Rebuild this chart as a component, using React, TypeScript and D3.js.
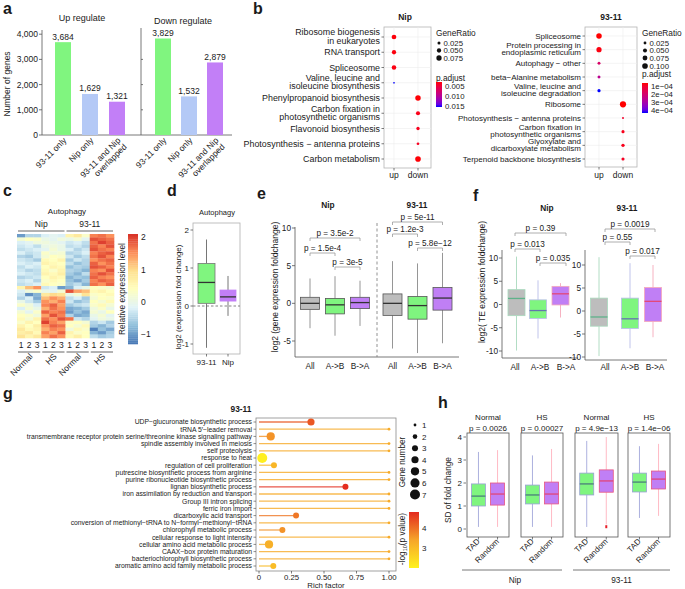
import React from 'react'
import * as d3 from 'd3'

const FONT = "'Liberation Sans', Arial, Helvetica, sans-serif"
const INK = '#1a1a1a'

// ---------- a: DEG counts ----------
const degGroups = ['93-11 only', 'Nip only', '93-11 and Nip\noverlapped']
const upCounts = [3684, 1629, 1321]
const downCounts = [3829, 1532, 2879]
const countTicks = [0, 1000, 2000, 3000, 4000]
const degColors = ['#80f57f', '#b4c9f6', '#c27ff7']

// ---------- b: KEGG dot plots ----------
const nipTerms = [
  'Ribosome biogenesis\nin eukaryotes', 'RNA transport', 'Spliceosome',
  'Valine, leucine and\nisoleucine biosynthesis', 'Phenylpropanoid biosynthesis',
  'Carbon fixation in\nphotosynthetic organisms', 'Flavonoid biosynthesis',
  'Photosynthesis − antenna proteins', 'Carbon metabolism',
]
const nipDirs = ['up', 'up', 'up', 'up', 'down', 'down', 'down', 'down', 'down']
const nipRatio = [0.06, 0.05, 0.055, 0.008, 0.08, 0.045, 0.03, 0.02, 0.085]
const nipPadj = [0.0029, 0.003, 0.0031, 0.0155, 0.0028, 0.0033, 0.0035, 0.0036, 0.0028]
const nipRatioTicks = [0.025, 0.05, 0.075]
const nipPadjTicks = [0.005, 0.01, 0.015]

const t93Terms = [
  'Spliceosome', 'Protein processing in\nendoplasmic reticulum', 'Autophagy − other',
  'beta−Alanine metabolism', 'Valine, leucine and\nisoleucine degradation', 'Ribosome',
  'Photosynthesis − antenna proteins', 'Carbon fixation in\nphotosynthetic organisms',
  'Glyoxylate and\ndicarboxylate metabolism', 'Terpenoid backbone biosynthesis',
]
const t93Dirs = ['up', 'up', 'up', 'up', 'up', 'down', 'down', 'down', 'down', 'down']
const t93Ratio = [0.095, 0.085, 0.028, 0.028, 0.032, 0.12, 0.012, 0.03, 0.035, 0.03]
const t93Padj = [0.6e-4, 0.7e-4, 1.9e-4, 2.6e-4, 4.35e-4, 0.6e-4, 1.0e-4, 0.8e-4, 0.8e-4, 0.9e-4]
const t93RatioTicks = [0.025, 0.05, 0.075, 0.1]
const t93PadjTicks = [1e-4, 2e-4, 3e-4, 4e-4]

// ---------- c: autophagy heatmap (Nip N, Nip HS, 93-11 N, 93-11 HS) ----------
const heatColLabels = ['1', '2', '3', '1', '2', '3', '1', '2', '3', '1', '2', '3']
const heatRows = [
  [-1.0, -0.5, -0.5, -0.2, -0.1, -0.2, 0.6, 0.8, 0.3, 1.6, 1.7, 1.5],
  [0.2, 0.4, 0.3, 0.0, -0.1, 0.1, 0.0, 0.2, -0.1, 1.9, 1.8, 1.7],
  [-0.2, -0.1, 0.1, 0.1, 0.0, -0.1, -0.3, -0.2, -0.4, 1.7, 2.0, 1.8],
  [-0.3, -0.2, -0.4, 0.0, 0.1, 0.0, -0.4, -0.3, -0.5, 1.8, 1.6, 1.9],
  [-0.4, -0.3, -0.2, -0.1, 0.2, 0.0, -0.2, -0.5, -0.3, 1.9, 1.7, 1.6],
  [-0.2, -0.4, -0.3, 0.3, 0.1, 0.2, -0.5, -0.4, -0.2, 1.6, 1.8, 1.9],
  [-0.5, -0.6, -0.3, 0.2, 0.4, 0.3, -0.3, -0.6, -0.4, 1.7, 1.9, 1.6],
  [-0.3, -0.4, -0.6, 0.5, 0.4, 0.6, -0.6, -0.3, -0.5, 1.5, 1.7, 1.8],
  [-0.2, -0.3, -0.2, 0.6, 0.5, 0.4, -0.4, -0.7, -0.5, 1.8, 1.5, 1.7],
  [-0.4, -0.2, -0.3, 0.4, 0.6, 0.5, -0.7, -0.5, -0.6, 1.9, 1.8, 1.6],
  [-0.3, -0.5, -0.4, 0.5, 0.3, 0.6, -0.5, -0.6, -0.8, 1.6, 1.5, 1.9],
  [-0.2, -0.3, -0.4, 0.6, 0.5, 0.7, -0.6, -0.8, -0.4, 1.7, 1.9, 1.7],
  [-0.5, -0.4, -0.3, 0.4, 0.6, 0.5, -0.8, -0.6, -0.7, 1.8, 1.6, 1.5],
  [-0.3, -0.2, -0.5, 0.3, 0.5, 0.4, -0.7, -0.9, -0.6, 1.6, 1.8, 1.7],
  [-0.4, -0.3, -0.2, 0.5, 0.4, 0.3, -0.6, -0.4, -0.8, 1.7, 1.5, 1.8],
  [0.6, 1.2, 1.5, -0.3, -0.2, -1.0, -0.8, -0.2, 0.0, 0.4, 0.3, 0.2],
  [-0.2, 0.1, 0.3, 0.0, -0.1, 0.2, 1.9, 1.4, 1.2, 0.5, 0.6, 0.4],
  [-0.3, -1.1, -0.8, 0.8, 1.0, 0.9, 0.0, 0.2, 0.9, 0.3, 0.4, 0.5],
  [-0.5, -0.2, -0.9, 1.2, 1.5, 1.3, -0.4, -0.2, -0.6, 0.2, 0.4, 0.3],
  [0.0, -0.3, -0.6, 1.5, 1.3, 1.6, -0.3, -0.7, -0.5, 0.4, 0.2, 0.5],
  [0.3, 0.1, -0.2, 1.6, 1.8, 1.4, -0.6, -0.4, -0.3, 0.3, 0.5, 0.2],
  [-0.2, 0.2, 0.0, 1.3, 1.7, 1.5, -0.9, -0.8, -0.6, 0.1, 0.3, 0.0],
  [0.2, -0.1, 0.3, 1.8, 1.6, 1.7, -1.0, -0.7, -0.9, 0.2, 0.0, 0.4],
  [0.4, 0.3, 0.1, 1.4, 1.9, 1.6, -0.5, -0.9, -0.8, 0.0, 0.2, -0.1],
  [0.5, 0.2, 0.6, 1.7, 1.5, 1.9, 1.7, -0.3, -0.5, -0.1, 0.1, 0.0],
  [0.3, 0.6, 0.4, 2.0, 1.6, 1.4, 0.3, 0.4, 0.2, -0.5, -0.3, -0.6],
  [0.6, 0.4, 0.7, 1.5, 1.8, 1.7, 0.4, 0.2, 0.5, -0.6, -0.8, -0.5],
  [0.8, 0.5, 0.6, 1.3, 1.6, 1.5, 0.1, 0.5, 0.3, -1.2, -0.7, -0.9],
  [0.7, 0.8, 0.5, 1.6, 1.4, 1.8, 0.6, 0.3, 0.4, -0.8, -1.0, -0.6],
  [0.9, 0.6, 0.8, 1.4, 1.7, 1.5, 0.5, 0.7, 0.4, -0.4, -0.6, -0.5],
]
const heatTicks = [-1, 0, 1, 2]
const heatGroups = ['Normal', 'HS', 'Normal', 'HS']
const heatStrains = ['Nip', '93-11']
const RDYLBU = ['#4575b4', '#91bfdb', '#e0f3f8', '#ffffbf', '#fee090', '#fc8d59', '#d73027']

// ---------- d: autophagy fold change (lo, q1, median, q3, hi) ----------
const dGroups = ['93-11', 'Nip']
const dStats = [
  [-1.1, 0.07, 0.62, 1.12, 1.75],
  [-0.26, 0.13, 0.24, 0.42, 0.79],
]
const dTicks = [-1, 0, 1, 2]

// ---------- e / f: compartment switches ----------
const switchGroups = ['All', 'A->B', 'B->A']
const bracketPairs = [[0, 2], [0, 1], [1, 2]]
const eNipStats = [
  [-3.3, -0.8, 0, 0.8, 3.3],
  [-4.3, -1.4, -0.2, 0.65, 3.6],
  [-3.0, -0.7, 0.1, 0.8, 3.0],
]
const e93Stats = [
  [-6.0, -1.6, 0, 1.25, 5.6],
  [-6.6, -2.1, -0.3, 0.9, 5.3],
  [-5.3, -0.9, 0.7, 2.1, 6.7],
]
const eNipP = ['p = 3.5e-2', 'p = 1.5e-4', 'p = 3e-5']
const e93P = ['p = 5e-11', 'p = 1.2e-3', 'p = 5.8e−12']
const eTicks = [-5, 0, 5, 10]

const fNipStats = [
  [-9.9, -2.4, 1.3, 3.2, 10.3],
  [-7.3, -3.0, -1.3, 1.0, 5.2],
  [-2.8, -0.1, 2.3, 3.9, 4.6],
]
const f93Stats = [
  [-9.8, -3.3, -1.3, 2.8, 11.7],
  [-8.1, -3.8, -1.7, 2.8, 10.4],
  [-5.7, -2.3, 2.1, 5.1, 10.0],
]
const fNipP = ['p = 0.39', 'p = 0.013', 'p = 0.035']
const f93P = ['p = 0.0019', 'p = 0.55', 'p = 0.017']
const fTicks = [-10, -5, 0, 5, 10]

// ---------- g: GO enrichment ----------
const goTerms = [
  'UDP−glucuronate biosynthetic process',
  'tRNA 5′−leader removal',
  'transmembrane receptor protein serine/threonine kinase signaling pathway',
  'spindle assembly involved in meiosis',
  'self proteolysis',
  'response to heat',
  'regulation of cell proliferation',
  'putrescine biosynthetic process from arginine',
  'purine ribonucleotide biosynthetic process',
  'lignan biosynthetic process',
  'iron assimilation by reduction and transport',
  'Group III intron splicing',
  'ferric iron import',
  'dicarboxylic acid transport',
  'conversion of methionyl−tRNA to N−formyl−methionyl−tRNA',
  'chlorophyll metabolic process',
  'cellular response to light intensity',
  'cellular amino acid metabolic process',
  'CAAX−box protein maturation',
  'bacteriochlorophyll biosynthetic process',
  'aromatic amino acid family metabolic process',
]
const goRich = [0.4, 1, 0.09, 1, 1, 0.025, 0.115, 1, 1, 0.665, 1, 1, 1, 0.285, 1, 0.18, 1, 0.077, 1, 1, 0.11]
const goGenes = [4, 1, 5, 1, 1, 7, 3, 1, 1, 3, 1, 1, 1, 3, 1, 3, 1, 5, 1, 1, 3]
const goLogP = [4.25, 3.3, 3.6, 3.3, 3.3, 2.1, 3.1, 3.3, 3.3, 4.7, 3.3, 3.3, 3.3, 3.9, 3.3, 3.6, 3.3, 3.2, 3.3, 3.3, 3.0]
const goRichTicks = [0, 0.25, 0.5, 0.75, 1]
const goGeneTicks = [1, 2, 3, 4, 5, 6, 7]
const goLogPTicks = [3, 4]

// ---------- h: SD of fold change ----------
const hConds = ['Normal', 'HS', 'Normal', 'HS']
const hP = ['p = 0.0026', 'p = 0.00027', 'p = 4.9e−13', 'p = 1.4e−06']
const hGroups = ['TAD', 'Random']
const hTadStats = [
  [0.09, 1.0, 1.43, 1.96, 3.35],
  [0.09, 1.09, 1.48, 1.91, 3.2],
  [0.09, 1.48, 1.96, 2.43, 3.83],
  [0.48, 1.61, 2.04, 2.43, 3.6],
]
const hRandomStats = [
  [0.09, 1.04, 1.52, 2.0, 3.43],
  [0.09, 1.09, 1.52, 2.04, 3.48],
  [0.2, 1.6, 2.09, 2.57, 4.0],
  [0.57, 1.74, 2.17, 2.52, 3.7],
]
const hOutliers = [[], [], [0.1], []]
const hTicks = [0, 1, 2, 3, 4]

// ---------- helpers ----------
function T(p: any) {
  return <text fontFamily={FONT} fill={INK} {...p} />
}

function Letter({ x, y, c }: any) {
  return <T x={x} y={y} fontSize={16} fontWeight="bold">{c}</T>
}

function Box({ x, w, s, y, fill, stroke, med, whisker, mw = 1.3 }: any) {
  const [lo, q1, m, q3, hi] = s
  return (
    <g>
      <line x1={x} x2={x} y1={y(hi)} y2={y(q3)} stroke={whisker} strokeWidth={0.9} />
      <line x1={x} x2={x} y1={y(q1)} y2={y(lo)} stroke={whisker} strokeWidth={0.9} />
      <rect x={x - w / 2} y={y(q3)} width={w} height={y(q1) - y(q3)} fill={fill} stroke={stroke} strokeWidth={0.8} />
      <line x1={x - w / 2} x2={x + w / 2} y1={y(m)} y2={y(m)} stroke={med} strokeWidth={mw} />
    </g>
  )
}

function Bracket({ x1, x2, y, label }: any) {
  return (
    <g>
      <path d={`M${x1},${y + 3}V${y}H${x2}V${y + 3}`} fill="none" stroke="#9a9a9a" strokeWidth={0.8} />
      <T x={(x1 + x2) / 2} y={y - 2.3} fontSize={8.2} textAnchor="middle">{label}</T>
    </g>
  )
}

function Lines({ text, lh }: any) {
  const ls = text.split('\n')
  return <>{ls.map((l: string, i: number) => <tspan key={i} x={0} dy={i ? lh : 0}>{l}</tspan>)}</>
}

// ---------- panel a ----------
function PanelA() {
  const y = d3.scaleLinear().domain([0, 4000]).range([135, 34.2])
  const color = d3.scaleOrdinal<string, string>().domain(degGroups).range(degColors)
  const fmt = d3.format(',')
  const subs = [
    { title: 'Up regulate', counts: upCounts, range: [63, 117], tx: 82, ty: 21 },
    { title: 'Down regulate', counts: downCounts, range: [163, 215], tx: 183, ty: 24 },
  ]
  return (
    <g>
      <Letter x={3} y={14} c="a" />
      <path d="M42,30V135H232" fill="none" stroke="#555" strokeWidth={0.8} />
      <path d="M141,28V135" fill="none" stroke="#555" strokeWidth={0.8} />
      {countTicks.map(t => (
        <g key={t}>
          <line x1={39} x2={42} y1={y(t)} y2={y(t)} stroke="#555" strokeWidth={0.8} />
          <T x={38} y={y(t) + 3} fontSize={8.5} textAnchor="end">{fmt(t)}</T>
          {t > 0 && t < 4000 && <line x1={141} x2={143} y1={y(t)} y2={y(t)} stroke="#555" strokeWidth={0.8} />}
        </g>
      ))}
      <T transform="translate(10,84) rotate(-90)" fontSize={8.5} textAnchor="middle">Number of genes</T>
      {subs.map(s => {
        const x = d3.scalePoint<string>().domain(degGroups).range(s.range as [number, number])
        return (
          <g key={s.title}>
            <T x={s.tx} y={s.ty} fontSize={9} textAnchor="middle">{s.title}</T>
            {degGroups.map((g, i) => (
              <g key={g}>
                <rect x={x(g)! - 8} y={y(s.counts[i])} width={16} height={y(0) - y(s.counts[i])} fill={color(g)} />
                <T x={x(g)} y={y(s.counts[i]) - 2.5} fontSize={8.5} textAnchor="middle">{fmt(s.counts[i])}</T>
                <T transform={`translate(${x(g)! + 4},141) rotate(-45)`} fontSize={8.5} textAnchor="end">
                  <Lines text={g} lh="1.05em" />
                </T>
              </g>
            ))}
          </g>
        )
      })}
    </g>
  )
}

// ---------- panel b ----------
function DotPlot(c: any) {
  const n = c.terms.length
  const y = d3.scalePoint<number>().domain(d3.range(n)).range([c.rowTop, c.rowBot])
  const x = d3.scalePoint<string>().domain(['up', 'down']).range(c.colX)
  const r = d3.scaleSqrt().domain([0, c.ratioMax]).range([0, c.rMax])
  const col = d3.scaleLinear<string>().domain(c.padjDomain).range(['#ff0000', '#0000ff']).interpolate(d3.interpolateLab).clamp(true)
  const by = d3.scaleLinear().domain(c.padjDomain).range(c.barY)
  const gid = `grad${c.id}`
  const stops = d3.range(11).map(i => i / 10)
  return (
    <g>
      <defs>
        <linearGradient id={gid} x1="0" y1="0" x2="0" y2="1">
          {stops.map(t => <stop key={t} offset={t} stopColor={col(c.padjDomain[0] + t * (c.padjDomain[1] - c.padjDomain[0]))} />)}
        </linearGradient>
      </defs>
      <T x={c.titleX} y={20} fontSize={8.5} fontWeight="bold" textAnchor="middle">{c.title}</T>
      <rect x={c.x0} y={c.y0} width={c.x1 - c.x0} height={c.y1 - c.y0} fill="white" stroke="#b5b5b5" strokeWidth={0.8} />
      {d3.range(n).map(i => (
        <line key={i} x1={c.x0} x2={c.x1} y1={y(i)} y2={y(i)} stroke="#ececec" strokeWidth={0.6} />
      ))}
      {x.domain().map(d => (
        <g key={d}>
          <line x1={x(d)} x2={x(d)} y1={c.y0} y2={c.y1} stroke="#ececec" strokeWidth={0.6} />
          <line x1={x(d)} x2={x(d)} y1={c.y1} y2={c.y1 + 2.5} stroke="#444" strokeWidth={0.7} />
          <T x={x(d)} y={178} fontSize={8.5} textAnchor="middle">{d}</T>
        </g>
      ))}
      {c.terms.map((t: string, i: number) => {
        const two = t.includes('\n')
        return (
          <g key={t}>
            <line x1={c.x0 - 2.5} x2={c.x0} y1={y(i)} y2={y(i)} stroke="#444" strokeWidth={0.7} />
            <T transform={`translate(${c.x0 - 4},${y(i)! + (two ? c.twoOff : 3)})`} fontSize={c.fs} textAnchor="end">
              <Lines text={t} lh={c.lh} />
            </T>
            <circle cx={x(c.dirs[i])} cy={y(i)} r={r(c.ratio[i])} fill={col(c.padj[i])} />
          </g>
        )
      })}
      <T x={c.legX} y={36} fontSize={8.3}>GeneRatio</T>
      {c.ratioTicks.map((t: number, i: number) => (
        <g key={t}>
          <circle cx={c.legX + 3} cy={c.legDotY[i]} r={r(t)} fill="#111" />
          <T x={c.legX + 7.5} y={c.legDotY[i] + 2.8} fontSize={7.8}>{d3.format('.3f')(t)}</T>
        </g>
      ))}
      <T x={c.legX} y={c.padjTitleY} fontSize={8.3}>p.adjust</T>
      <rect x={c.legX} y={c.barY[0]} width={6} height={c.barY[1] - c.barY[0]} fill={`url(#${gid})`} />
      {c.padjTicks.map((t: number) => (
        <T key={t} x={c.legX + 9} y={by(t) + 2.8} fontSize={7.8}>{c.padjFmt(t)}</T>
      ))}
    </g>
  )
}

function PanelB() {
  return (
    <g>
      <Letter x={253} y={14} c="b" />
      <DotPlot id="nip" title="Nip" titleX={405} terms={nipTerms} dirs={nipDirs} ratio={nipRatio} padj={nipPadj}
        x0={384} x1={431} y0={27} y1={168} rowTop={37} rowBot={159} colX={[394, 418]}
        fs={8.9} lh={8.2} twoOff={-1.6}
        ratioMax={0.09} rMax={2.9} ratioTicks={nipRatioTicks} legDotY={[43, 50.5, 58]}
        padjDomain={[0.0027, 0.0155]} barY={[82, 107]} padjTicks={nipPadjTicks} padjTitleY={81}
        padjFmt={d3.format('.3f')} legX={436} />
      <DotPlot id="t93" title="93-11" titleX={611} terms={t93Terms} dirs={t93Dirs} ratio={t93Ratio} padj={t93Padj}
        x0={585} x1={637} y0={27} y1={167} rowTop={36} rowBot={159} colX={[599, 623]}
        fs={8} lh={7} twoOff={-1.3}
        ratioMax={0.12} rMax={3.1} ratioTicks={t93RatioTicks} legDotY={[43, 50.5, 58, 66]}
        padjDomain={[0.6e-4, 4.35e-4]} barY={[83, 113]} padjTicks={t93PadjTicks} padjTitleY={77}
        padjFmt={(v: number) => `${Math.round(v * 1e4)}e−04`} legX={642} />
    </g>
  )
}

// ---------- panel c ----------
function PanelC() {
  const x = d3.scaleBand<number>().domain(d3.range(12)).range([17, 114])
  const y = d3.scaleBand<number>().domain(d3.range(heatRows.length)).range([234, 338])
  const lo = -1.3, hi = 2.1
  const color = d3.scaleLinear<string>()
    .domain(RDYLBU.map((_, i) => lo + (i * (hi - lo)) / (RDYLBU.length - 1)))
    .range(RDYLBU).clamp(true)
  const cb = d3.scaleLinear().domain([lo, hi]).range([344, 234])
  const steps = d3.range(60)
  const grpX = (g: number) => (x(g * 3)! + x(g * 3 + 2)! + x.bandwidth()) / 2
  return (
    <g>
      <Letter x={3} y={196} c="c" />
      <T x={67} y={214} fontSize={8} textAnchor="middle">Autophagy</T>
      {heatStrains.map((s, i) => (
        <g key={s}>
          <T x={x(i * 6)! + x.bandwidth() * 3} y={227} fontSize={8.5} textAnchor="middle">{s}</T>
          <line x1={x(i * 6)! + 1} x2={x(i * 6 + 5)! + x.bandwidth() - 1} y1={231} y2={231} stroke="#555" strokeWidth={0.9} />
        </g>
      ))}
      {heatRows.map((row, ri) => row.map((v, ci) => (
        <rect key={`${ri}-${ci}`} x={x(ci)} y={y(ri)} width={x.bandwidth() + 0.3} height={y.bandwidth() + 0.3} fill={color(v)} />
      )))}
      {heatColLabels.map((l, i) => (
        <T key={i} x={x(i)! + x.bandwidth() / 2} y={348} fontSize={8.5} textAnchor="middle">{l}</T>
      ))}
      {heatGroups.map((g, i) => (
        <g key={i}>
          <line x1={x(i * 3)! + 1} x2={x(i * 3 + 2)! + x.bandwidth() - 1} y1={352} y2={352} stroke="#555" strokeWidth={0.9} />
          <T transform={`translate(${grpX(i) + 4},357) rotate(-45)`} fontSize={8.5} textAnchor="end">{g}</T>
        </g>
      ))}
      {steps.map(i => {
        const v0 = lo + (i / steps.length) * (hi - lo)
        const v1 = lo + ((i + 1) / steps.length) * (hi - lo)
        return <rect key={i} x={128} y={cb(v1)} width={10} height={cb(v0) - cb(v1) + 0.3} fill={color((v0 + v1) / 2)} />
      })}
      {heatTicks.map(t => (
        <T key={t} x={141} y={cb(t) + 3} fontSize={8.5}>{t < 0 ? `−${-t}` : t}</T>
      ))}
      <T transform="translate(125,289) rotate(-90)" fontSize={8.3} textAnchor="middle">Relative expression level</T>
    </g>
  )
}

// ---------- panel d ----------
function PanelD() {
  const y = d3.scaleLinear().domain([-1, 2]).range([344, 230])
  const x = d3.scalePoint<string>().domain(dGroups).range([206.5, 228])
  const fills = ['#80f57f', '#c27ff7']
  return (
    <g>
      <Letter x={167} y={196} c="d" />
      <T x={217} y={215} fontSize={7.5} textAnchor="middle">Autophagy</T>
      <rect x={193} y={223} width={47} height={131} fill="white" stroke="#b0b0b0" strokeWidth={0.8} />
      <line x1={193} x2={240} y1={y(0)} y2={y(0)} stroke="#666" strokeDasharray="2.5,2" strokeWidth={0.8} />
      {dTicks.map(t => (
        <g key={t}>
          <line x1={190.5} x2={193} y1={y(t)} y2={y(t)} stroke="#444" strokeWidth={0.7} />
          <T x={189} y={y(t) + 3} fontSize={8} textAnchor="end">{t}</T>
        </g>
      ))}
      {dGroups.map((g, i) => (
        <g key={g}>
          <Box x={x(g)} w={i ? 16 : 17} s={dStats[i]} y={y} fill={fills[i]} stroke={i ? '#c27ff7' : '#777'} med="#333" whisker="#666" />
          <line x1={x(g)} x2={x(g)} y1={354} y2={356.5} stroke="#444" strokeWidth={0.7} />
          <T x={x(g)} y={365} fontSize={8} textAnchor="middle">{g}</T>
        </g>
      ))}
      <T transform="translate(181,297) rotate(-90)" fontSize={8} textAnchor="middle">log2 (expression fold change)</T>
    </g>
  )
}

// ---------- panel e / f sub-plots ----------
function SwitchPlot({ stats, pos, labelPos, y, fills, strokes, meds, whiskers, pvals, bY, w }: any) {
  return (
    <g>
      {switchGroups.map((g, i) => (
        <Box key={g} x={pos[i]} w={w} s={stats[i]} y={y} fill={fills[i]} stroke={strokes[i]} med={meds[i]} whisker={whiskers[i]} />
      ))}
      {bracketPairs.map(([a, b], k) => (
        <Bracket key={k} x1={labelPos[a]} x2={labelPos[b]} y={bY[k]} label={pvals[k]} />
      ))}
    </g>
  )
}

function PanelE() {
  const y = d3.scaleLinear().domain([-5, 10]).range([341, 228])
  const fills = ['#bdbdbd', '#7ff57f', '#c07ff5']
  const strokes = ['#555', '#555', '#555']
  const meds = ['#333', '#333', '#333']
  const wh = ['#8a8a8a', '#8a8a8a', '#8a8a8a']
  const nipX = d3.scalePoint<string>().domain(switchGroups).range([310, 360])
  const t93X = d3.scalePoint<string>().domain(switchGroups).range([392.5, 442.5])
  const np = switchGroups.map(g => nipX(g)!)
  const tp = switchGroups.map(g => t93X(g)!)
  return (
    <g>
      <Letter x={257} y={199} c="e" />
      <T x={328} y={208} fontSize={8.3} fontWeight="bold" textAnchor="middle">Nip</T>
      <T x={417} y={208} fontSize={8.3} fontWeight="bold" textAnchor="middle">93-11</T>
      <path d="M295,227V357H459" fill="none" stroke="#555" strokeWidth={0.8} />
      <line x1={377} x2={377} y1={223} y2={357} stroke="#777" strokeDasharray="3,2.5" strokeWidth={0.8} />
      {eTicks.map(t => (
        <g key={t}>
          <line x1={292} x2={295} y1={y(t)} y2={y(t)} stroke="#555" strokeWidth={0.8} />
          <T x={291} y={y(t) + 3} fontSize={8.3} textAnchor="end">{t}</T>
        </g>
      ))}
      <T transform="translate(278,287) rotate(-90)" fontSize={8.5} textAnchor="middle">log2 (gene expression foldchange)</T>
      <SwitchPlot stats={eNipStats} pos={np} labelPos={np} y={y} fills={fills} strokes={strokes} meds={meds} whiskers={wh}
        pvals={eNipP} bY={[238, 253, 267]} w={19} />
      <SwitchPlot stats={e93Stats} pos={tp} labelPos={tp} y={y} fills={fills} strokes={strokes} meds={meds} whiskers={wh}
        pvals={e93P} bY={[222, 234, 248]} w={19} />
      {switchGroups.map(g => (
        <g key={g}>
          <T x={nipX(g)} y={369} fontSize={8.3} textAnchor="middle">{g}</T>
          <T x={t93X(g)} y={369} fontSize={8.3} textAnchor="middle">{g}</T>
        </g>
      ))}
    </g>
  )
}

function PanelF() {
  const yN = d3.scaleLinear().domain([-10, 10]).range([351, 258])
  const yT = d3.scaleLinear().domain([-10, 10]).range([357, 265])
  const fills = ['#bdbdbd', '#7ff57f', '#c07ff5']
  const strokes = ['#a9d9bd', '#b9bde9', '#f5a9ba']
  const meds = ['#5fb28a', '#6475ad', '#e2487a']
  const nipBox = [516.5, 538, 560.5]
  const nipLab = [515, 540, 566]
  const t93Box = [599, 630, 653]
  const t93Lab = [605, 630, 655]
  const axes = [
    { y: yN, ax: 502, bottom: 358, right: 578 },
    { y: yT, ax: 585, bottom: 360, right: 667 },
  ]
  return (
    <g>
      <Letter x={473} y={201} c="f" />
      <T x={547} y={211} fontSize={8.3} fontWeight="bold" textAnchor="middle">Nip</T>
      <T x={627} y={211} fontSize={8.3} fontWeight="bold" textAnchor="middle">93-11</T>
      {axes.map((a, k) => (
        <g key={k}>
          <path d={`M${a.ax},250V${a.bottom}H${a.right}`} fill="none" stroke="#555" strokeWidth={0.8} />
          {fTicks.map(t => (
            <g key={t}>
              <line x1={a.ax - 3} x2={a.ax} y1={a.y(t)} y2={a.y(t)} stroke="#555" strokeWidth={0.8} />
              <T x={a.ax - 4} y={a.y(t) + 3} fontSize={8.3} textAnchor="end">{t}</T>
            </g>
          ))}
        </g>
      ))}
      <T transform="translate(485,282) rotate(-90)" fontSize={8.5} textAnchor="middle">log2( TE expression foldchange)</T>
      <SwitchPlot stats={fNipStats} pos={nipBox} labelPos={nipLab} y={yN} fills={fills} strokes={strokes} meds={meds} whiskers={strokes}
        pvals={fNipP} bY={[233, 249, 263]} w={17} />
      <SwitchPlot stats={f93Stats} pos={t93Box} labelPos={t93Lab} y={yT} fills={fills} strokes={strokes} meds={meds} whiskers={strokes}
        pvals={f93P} bY={[229, 242, 256]} w={17} />
      {switchGroups.map((g, i) => (
        <g key={g}>
          <T x={nipLab[i]} y={370} fontSize={8.3} textAnchor="middle">{g}</T>
          <T x={t93Lab[i]} y={370} fontSize={8.3} textAnchor="middle">{g}</T>
        </g>
      ))}
    </g>
  )
}

// ---------- panel g ----------
function PanelG() {
  const x = d3.scaleLinear().domain([0, 1]).range([259, 389])
  const y = d3.scalePoint<number>().domain(d3.range(goTerms.length)).range([422, 566])
  const r = d3.scaleSqrt().domain([1, 7]).range([1.4, 5])
  const col = d3.scaleLinear<string>().domain([2.05, 3.4, 4.75]).range(['#fff21e', '#f6a52a', '#e3291f']).clamp(true)
  const cb = d3.scaleLinear().domain([2.05, 4.75]).range([568, 512])
  const stops = d3.range(11).map(i => i / 10)
  const legY = d3.scalePoint<number>().domain(goGeneTicks).range([425, 494.5])
  return (
    <g>
      <defs>
        <linearGradient id="gradGo" x1="0" y1="1" x2="0" y2="0">
          {stops.map(t => <stop key={t} offset={t} stopColor={col(2.05 + t * 2.7)} />)}
        </linearGradient>
      </defs>
      <Letter x={3} y={399} c="g" />
      <T x={241} y={412} fontSize={8.3} fontWeight="bold" textAnchor="middle">93-11</T>
      <rect x={256} y={418} width={140} height={153} fill="white" stroke="#8a8a8a" strokeWidth={0.8} />
      {goTerms.map((t, i) => (
        <g key={t}>
          <line x1={253.5} x2={256} y1={y(i)} y2={y(i)} stroke="#444" strokeWidth={0.6} />
          <T x={252} y={y(i)! + 2.3} fontSize={6.8} textAnchor="end">{t}</T>
          <line x1={x(0)} x2={x(goRich[i])} y1={y(i)} y2={y(i)} stroke={col(goLogP[i])} strokeWidth={1.3} opacity={0.8} />
          <circle cx={x(goRich[i])} cy={y(i)} r={r(goGenes[i])} fill={col(goLogP[i])} />
        </g>
      ))}
      {goRichTicks.map(t => (
        <g key={t}>
          <line x1={x(t)} x2={x(t)} y1={571} y2={573.5} stroke="#444" strokeWidth={0.7} />
          <T x={x(t)} y={579.5} fontSize={7.8} textAnchor="middle">{t === 0 ? '0' : d3.format('.2f')(t)}</T>
        </g>
      ))}
      <T x={326} y={588.3} fontSize={7.8} textAnchor="middle">Rich factor</T>
      <T transform="translate(405,462) rotate(-90)" fontSize={8.3} textAnchor="middle">Gene number</T>
      {goGeneTicks.map(g => (
        <g key={g}>
          <circle cx={415} cy={legY(g)} r={r(g)} fill="#111" />
          <T x={422} y={legY(g)! + 3} fontSize={8}>{g}</T>
        </g>
      ))}
      <T transform="translate(405,539) rotate(-90)" fontSize={8.3} textAnchor="middle">
        -log<tspan fontSize={5.5} dy={2}>10</tspan><tspan dy={-2}>(p value)</tspan>
      </T>
      <rect x={409} y={512} width={10} height={56} fill="url(#gradGo)" />
      {goLogPTicks.map(t => (
        <T key={t} x={422} y={cb(t) + 3} fontSize={8}>{t}</T>
      ))}
    </g>
  )
}

// ---------- panel h ----------
function PanelH() {
  const y = d3.scaleLinear().domain([0, 4]).range([529, 437])
  const facetX = [[467, 509], [521, 563], [575, 618], [628, 670]]
  const tadStyle = { fill: '#7ff57f', stroke: '#9aa0d6', med: '#4a7f7a', whisker: '#a3a7da' }
  const rndStyle = { fill: '#c07ff5', stroke: '#e8557f', med: '#e0457a', whisker: '#ffb3be' }
  const strainSpans = [
    { name: 'Nip', x0: 462, x1: 562 },
    { name: '93-11', x0: 573, x1: 670 },
  ]
  return (
    <g>
      <Letter x={438} y={408} c="h" />
      <T transform="translate(451,490) rotate(-90)" fontSize={8.3} textAnchor="middle">SD of fold change</T>
      {hTicks.map(t => (
        <g key={t}>
          <line x1={463.5} x2={466} y1={y(t)} y2={y(t)} stroke="#444" strokeWidth={0.7} />
          <T x={462} y={y(t) + 3} fontSize={8} textAnchor="end">{t}</T>
        </g>
      ))}
      {hConds.map((cnd, f) => {
        const [a, b] = facetX[f]
        const x = d3.scalePoint<string>().domain(hGroups).range([a, b]).padding(0.6)
        const cx = (a + b) / 2
        return (
          <g key={f}>
            <T x={cx} y={420} fontSize={8} textAnchor="middle">{cnd}</T>
            <T x={cx} y={431} fontSize={8} textAnchor="middle">{hP[f]}</T>
            <rect x={a} y={433} width={b - a} height={104} fill="white" stroke="#555" strokeWidth={0.8} />
            <Box x={x('TAD')} w={14} s={hTadStats[f]} y={y} {...tadStyle} />
            <Box x={x('Random')} w={14} s={hRandomStats[f]} y={y} {...rndStyle} />
            {hOutliers[f].map((v, k) => (
              <rect key={k} x={x('Random')! - 1} y={y(v) - 1.5} width={2} height={3} fill="#e8202a" />
            ))}
            {hGroups.map(g => (
              <g key={g}>
                <line x1={x(g)} x2={x(g)} y1={537} y2={539.5} stroke="#444" strokeWidth={0.7} />
                <T transform={`translate(${x(g)! + 2},542) rotate(-45)`} fontSize={8} textAnchor="end">{g}</T>
              </g>
            ))}
          </g>
        )
      })}
      {strainSpans.map(s => (
        <g key={s.name}>
          <line x1={s.x0} x2={s.x1} y1={570} y2={570} stroke="#555" strokeWidth={0.8} />
          <T x={(s.x0 + s.x1) / 2 + (s.name === 'Nip' ? 3 : 0)} y={583} fontSize={8.3} textAnchor="middle">{s.name}</T>
        </g>
      ))}
    </g>
  )
}

export default function App() {
  return (
    <svg width={685} height={589} style={{ position: 'absolute', left: 0, top: 0, background: 'white' }}>
      <PanelA />
      <PanelB />
      <PanelC />
      <PanelD />
      <PanelE />
      <PanelF />
      <PanelG />
      <PanelH />
    </svg>
  )
}
